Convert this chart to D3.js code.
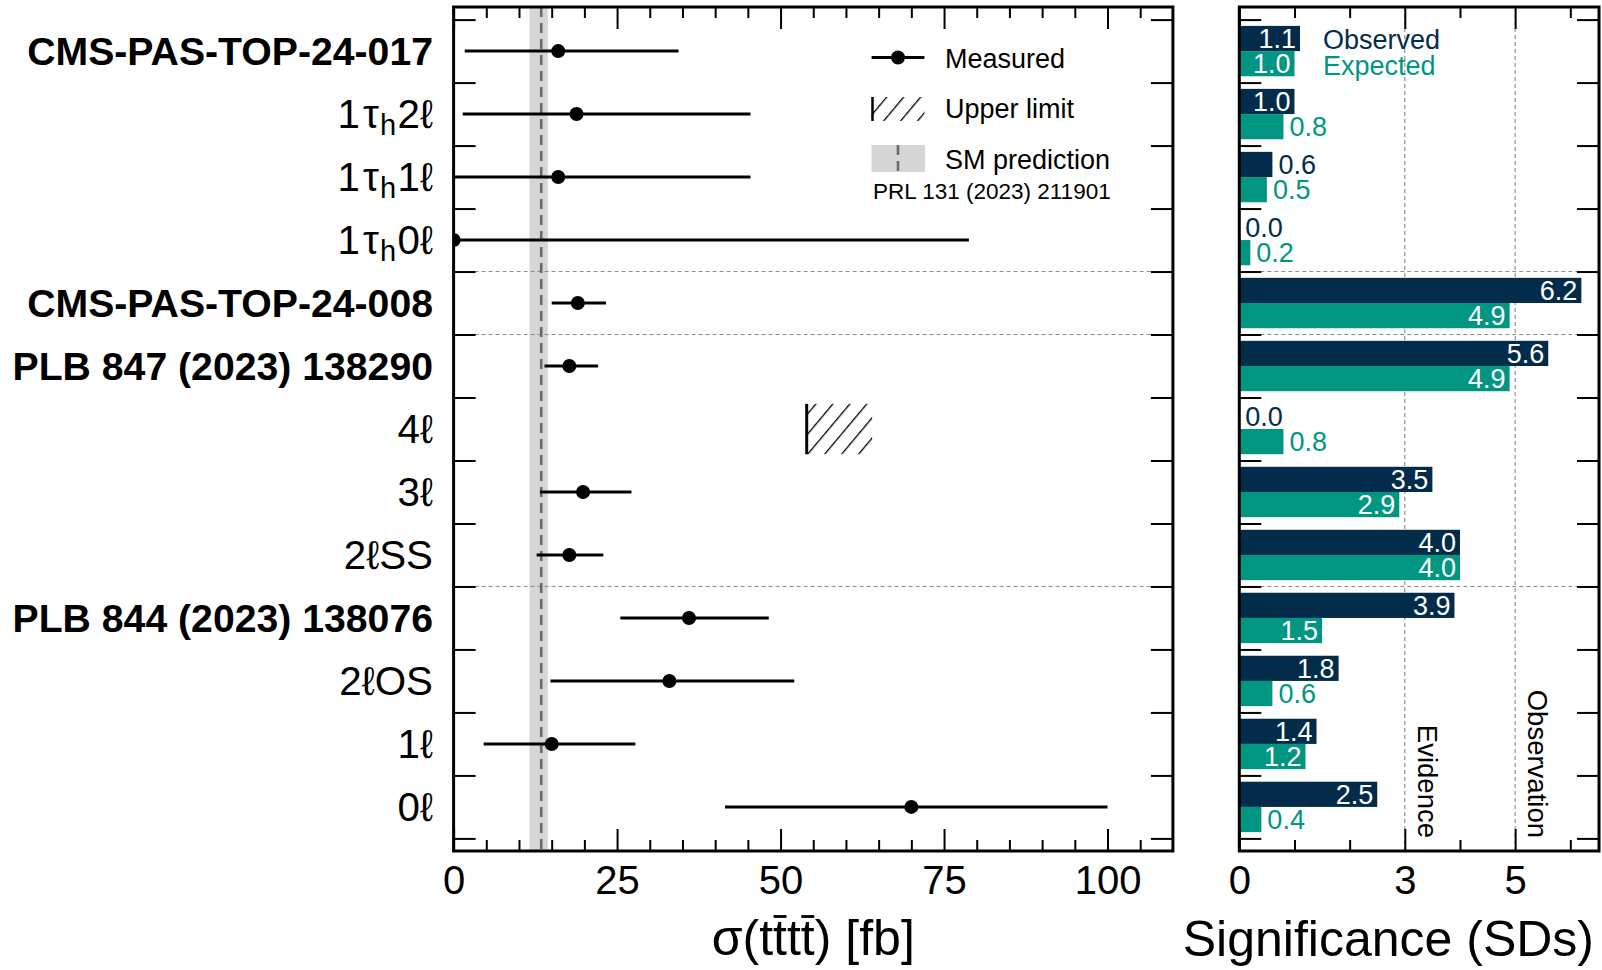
<!DOCTYPE html>
<html><head><meta charset="utf-8">
<script src="https://cdn.jsdelivr.net/npm/d3@7"></script>
<style>
html,body{margin:0;padding:0;background:#fff;}
svg{display:block;font-family:"Liberation Sans",Arial,Helvetica,sans-serif;}
</style></head><body>
<svg id="c" width="1602" height="970"></svg>
<script>
// ---------------- data ----------------
const rowLabels = ["CMS-PAS-TOP-24-017","1τ_h2ℓ","1τ_h1ℓ","1τ_h0ℓ","CMS-PAS-TOP-24-008","PLB 847 (2023) 138290","4ℓ","3ℓ","2ℓSS","PLB 844 (2023) 138076","2ℓOS","1ℓ","0ℓ"];
const rowIsPublication = [true,false,false,false,true,true,false,false,false,true,false,false,false];
const xsecCentral = [16.0,18.8,16.0,0.0,19.0,17.7,null,19.8,17.7,36.0,33.0,15.0,70.0];
const xsecLow     = [1.7,1.4,0.0,0.0,15.0,13.9,null,13.2,12.7,25.5,14.8,4.6,41.5];
const xsecHigh    = [34.4,45.4,45.4,78.8,23.3,22.1,null,27.2,22.9,48.2,52.1,27.8,100.0];
const upperLimitRows = [6];
const upperLimitValues = [54.0];
const upperLimitHatchEnd = [64.0];
const smPrediction = 13.4;
const smBandLow = 11.6, smBandHigh = 14.4;
const smReference = "PRL 131 (2023) 211901";
const sigObserved = [1.1,1.0,0.6,0.0,6.2,5.6,0.0,3.5,4.0,3.9,1.8,1.4,2.5];
const sigExpected = [1.0,0.8,0.5,0.2,4.9,4.9,0.8,2.9,4.0,1.5,0.6,1.2,0.4];
const separatorsAfterRow = [3,4,8];
const xsecMajorTicks = [0,25,50,75,100];
const xsecMinorTicks = [5,10,15,20,30,35,40,45,55,60,65,70,80,85,90,95,105];
const sigMajorTicks = [0,3,5];
const sigMinorTicks = [1,2,4,6];
const sigThresholds = [3,5];
const sigThresholdLabels = ["Evidence","Observation"];
const legendLeft = ["Measured","Upper limit","SM prediction"];
const legendRight = ["Observed","Expected"];

// ---------------- styles ----------------
const NAVY = "#022c4a", TEAL = "#009682";
const FONT = '"Liberation Sans",Arial,Helvetica,sans-serif';

const svg = d3.select("#c");
const yTop = 7, yBot = 851;
const L = {x0: 453.6, x1: 1172.9};
const R = {x0: 1239.3, x1: 1599};

const y = d3.scaleLinear().domain([-0.7, 12.7]).range([yTop, yBot]);
const xL = d3.scaleLinear().domain([0, 110]).range([L.x0, L.x1]);
const xR = d3.scaleLinear().domain([0, 6.52]).range([R.x0, R.x1]);
const rows = rowLabels.map((d,i)=>i);
const boundaries = [-0.5].concat(rows.map(i=>i+0.5));

// defs
const defs = svg.append("defs");
defs.append("clipPath").attr("id","clipL").append("rect")
  .attr("x",L.x0).attr("y",yTop).attr("width",L.x1-L.x0).attr("height",yBot-yTop);
const pat = defs.append("pattern").attr("id","hatch").attr("patternUnits","userSpaceOnUse")
  .attr("width",13).attr("height",13).attr("patternTransform","rotate(40)");
pat.append("line").attr("x1",0).attr("y1",0).attr("x2",0).attr("y2",13)
  .attr("stroke","#000").attr("stroke-width",2.6);

// ---------------- left panel ----------------
const gL = svg.append("g");
const plotL = gL.append("g").attr("clip-path","url(#clipL)");
plotL.append("rect").attr("x",xL(smBandLow)).attr("width",xL(smBandHigh)-xL(smBandLow))
  .attr("y",yTop).attr("height",yBot-yTop).attr("fill","#d6d6d6");
function separators(g, x0, x1){
  g.selectAll(null).data(separatorsAfterRow).enter().append("line")
    .attr("x1",x0).attr("x2",x1).attr("y1",d=>y(d+0.5)).attr("y2",d=>y(d+0.5))
    .attr("stroke","#8a8a8a").attr("stroke-width",1).attr("stroke-dasharray","4,3");
}
separators(plotL, L.x0, L.x1);
plotL.append("line").attr("x1",xL(smPrediction)).attr("x2",xL(smPrediction))
  .attr("y1",yTop).attr("y2",yBot).attr("stroke","#6a6a6a").attr("stroke-width",2.6)
  .attr("stroke-dasharray","10,6");

const meas = rows.filter(i=>xsecCentral[i]!==null);
plotL.selectAll(null).data(meas).enter().append("line")
  .attr("x1",i=>xL(xsecLow[i])).attr("x2",i=>xL(xsecHigh[i]))
  .attr("y1",i=>y(i)).attr("y2",i=>y(i)).attr("stroke","#000").attr("stroke-width",3);
plotL.selectAll(null).data(meas).enter().append("circle")
  .attr("cx",i=>xL(xsecCentral[i])).attr("cy",i=>y(i)).attr("r",7).attr("fill","#000");
upperLimitRows.forEach((r,k)=>{
  plotL.append("rect").attr("x",xL(upperLimitValues[k])).attr("width",xL(upperLimitHatchEnd[k])-xL(upperLimitValues[k]))
    .attr("y",y(r-0.4)).attr("height",y(r+0.4)-y(r-0.4)).attr("fill","url(#hatch)");
  plotL.append("line").attr("x1",xL(upperLimitValues[k])).attr("x2",xL(upperLimitValues[k]))
    .attr("y1",y(r-0.4)).attr("y2",y(r+0.4)).attr("stroke","#000").attr("stroke-width",3);
});

// legend (left)
const lg = gL.append("g").attr("font-family",FONT).attr("font-size",27);
lg.append("line").attr("x1",871.6).attr("x2",924.4).attr("y1",57.5).attr("y2",57.5).attr("stroke","#000").attr("stroke-width",3);
lg.append("circle").attr("cx",898).attr("cy",57.5).attr("r",7).attr("fill","#000");
lg.append("text").attr("x",945).attr("y",67.5).text(legendLeft[0]);
lg.append("rect").attr("x",871.5).attr("y",97).attr("width",53).attr("height",24).attr("fill","url(#hatch)");
lg.append("line").attr("x1",872.5).attr("x2",872.5).attr("y1",97).attr("y2",121).attr("stroke","#000").attr("stroke-width",2.5);
lg.append("text").attr("x",945).attr("y",117.5).text(legendLeft[1]);
lg.append("rect").attr("x",871.5).attr("y",145).attr("width",53.5).attr("height",27).attr("fill","#d6d6d6");
lg.append("line").attr("x1",898).attr("x2",898).attr("y1",145).attr("y2",172).attr("stroke","#6a6a6a").attr("stroke-width",2.6).attr("stroke-dasharray","10,6");
lg.append("text").attr("x",945).attr("y",168.5).text(legendLeft[2]);
lg.append("text").attr("x",873).attr("y",198.5).attr("font-size",22.5).text(smReference);

// ---------------- right panel ----------------
const gR = svg.append("g");
separators(gR, R.x0, R.x1);
gR.selectAll(null).data(sigThresholds).enter().append("line")
  .attr("x1",d=>xR(d)).attr("x2",d=>xR(d)).attr("y1",yTop).attr("y2",yBot)
  .attr("stroke","#8a8a8a").attr("stroke-width",1.1).attr("stroke-dasharray","4,3");
gR.selectAll(null).data(sigThresholds).enter().append("text")
  .attr("transform",(d)=>`translate(${xR(d)+13},838) rotate(90)`)
  .attr("text-anchor","end").attr("font-family",FONT).attr("font-size",27.5)
  .text((d,i)=>sigThresholdLabels[i]);

const barH = y(0.4)-y(0);
function bars(vals, color, offset){
  gR.selectAll(null).data(rows).enter().append("rect")
    .attr("x",xR(0)).attr("width",i=>xR(vals[i])-xR(0))
    .attr("y",i=>y(i)+offset).attr("height",barH).attr("fill",color);
  gR.selectAll(null).data(rows).enter().append("text")
    .attr("font-family",FONT).attr("font-size",27)
    .attr("x",i=> vals[i]>=1.0 ? xR(vals[i])-4 : xR(vals[i])+6)
    .attr("y",i=>y(i)+offset+barH/2+9.7)
    .attr("text-anchor",i=> vals[i]>=1.0 ? "end":"start")
    .attr("fill",i=> vals[i]>=1.0 ? "#fff" : color)
    .text(i=>vals[i].toFixed(1));
}
bars(sigObserved, NAVY, -barH);
bars(sigExpected, TEAL, 0);
gR.append("text").attr("x",1323).attr("y",48.5).attr("font-family",FONT).attr("font-size",27).attr("fill",NAVY).text(legendRight[0]);
gR.append("text").attr("x",1323).attr("y",74.5).attr("font-family",FONT).attr("font-size",27).attr("fill",TEAL).text(legendRight[1]);

// ---------------- axes ----------------
function styleAxis(g, labelSize){
  g.attr("font-family",FONT);
  g.select(".domain").remove();
  g.selectAll(".tick line").attr("stroke","#000").attr("stroke-width",2);
  g.selectAll("text").attr("font-size",labelSize||40).attr("fill","#000");
}
function frameAxes(xs, x0, x1, major, minor){
  svg.append("g").attr("transform",`translate(0,${yBot})`)
    .call(d3.axisBottom(xs).tickValues(major).tickSizeInner(-22).tickSizeOuter(0).tickPadding(15).tickFormat(d3.format("d")))
    .call(g=>styleAxis(g));
  svg.append("g").attr("transform",`translate(0,${yBot})`)
    .call(d3.axisBottom(xs).tickValues(minor).tickSizeInner(-11).tickSizeOuter(0).tickFormat(""))
    .call(g=>styleAxis(g));
  svg.append("g").attr("transform",`translate(0,${yTop})`)
    .call(d3.axisTop(xs).tickValues(major).tickSizeInner(-22).tickSizeOuter(0).tickFormat(""))
    .call(g=>styleAxis(g));
  svg.append("g").attr("transform",`translate(0,${yTop})`)
    .call(d3.axisTop(xs).tickValues(minor).tickSizeInner(-11).tickSizeOuter(0).tickFormat(""))
    .call(g=>styleAxis(g));
  svg.append("g").attr("transform",`translate(${x0},0)`)
    .call(d3.axisLeft(y).tickValues(boundaries).tickSizeInner(-22).tickSizeOuter(0).tickFormat(""))
    .call(g=>styleAxis(g));
  svg.append("g").attr("transform",`translate(${x1},0)`)
    .call(d3.axisRight(y).tickValues(boundaries).tickSizeInner(-22).tickSizeOuter(0).tickFormat(""))
    .call(g=>styleAxis(g));
  svg.append("rect").attr("x",x0).attr("y",yTop).attr("width",x1-x0).attr("height",yBot-yTop)
    .attr("fill","none").attr("stroke","#000").attr("stroke-width",3);
}
frameAxes(xL, L.x0, L.x1, xsecMajorTicks, xsecMinorTicks);
frameAxes(xR, R.x0, R.x1, sigMajorTicks, sigMinorTicks);

// row labels
const rl = svg.append("g").attr("font-family",FONT).attr("text-anchor","end");
rows.forEach(i=>{
  const bold = rowIsPublication[i];
  const t = rl.append("text").attr("x",433).attr("y",y(i)+14)
    .attr("font-size",bold?39.2:40.3).attr("font-weight",bold?"bold":"normal");
  const parts = rowLabels[i].split("_");
  if(parts.length===1){ t.text(parts[0]); }
  else {
    const pre = parts[0];
    t.append("tspan").text(pre.slice(0,-1));
    t.append("tspan").attr("dx",3).text(pre.slice(-1));
    t.append("tspan").attr("font-size",29).attr("dy",7).attr("dx",1).text(parts[1].charAt(0));
    t.append("tspan").attr("dy",-7).attr("dx",1.5).text(parts[1].slice(1));
  }
});

// axis titles
const titleL = svg.append("text").attr("x",(L.x0+L.x1)/2).attr("y",955).attr("text-anchor","middle")
  .attr("font-family",FONT).attr("font-size",50).text("σ(tttt) [fb]");
[3,5].forEach(ci=>{
  const ext = titleL.node().getExtentOfChar(ci);
  svg.append("line").attr("x1",ext.x+0.5).attr("x2",ext.x+ext.width-0.5)
    .attr("y1",955-38.5).attr("y2",955-38.5).attr("stroke","#000").attr("stroke-width",2.8);
});
svg.append("text").attr("x",1594).attr("y",956).attr("text-anchor","end")
  .attr("font-family",FONT).attr("font-size",50).text("Significance (SDs)");
</script>
</body></html>
